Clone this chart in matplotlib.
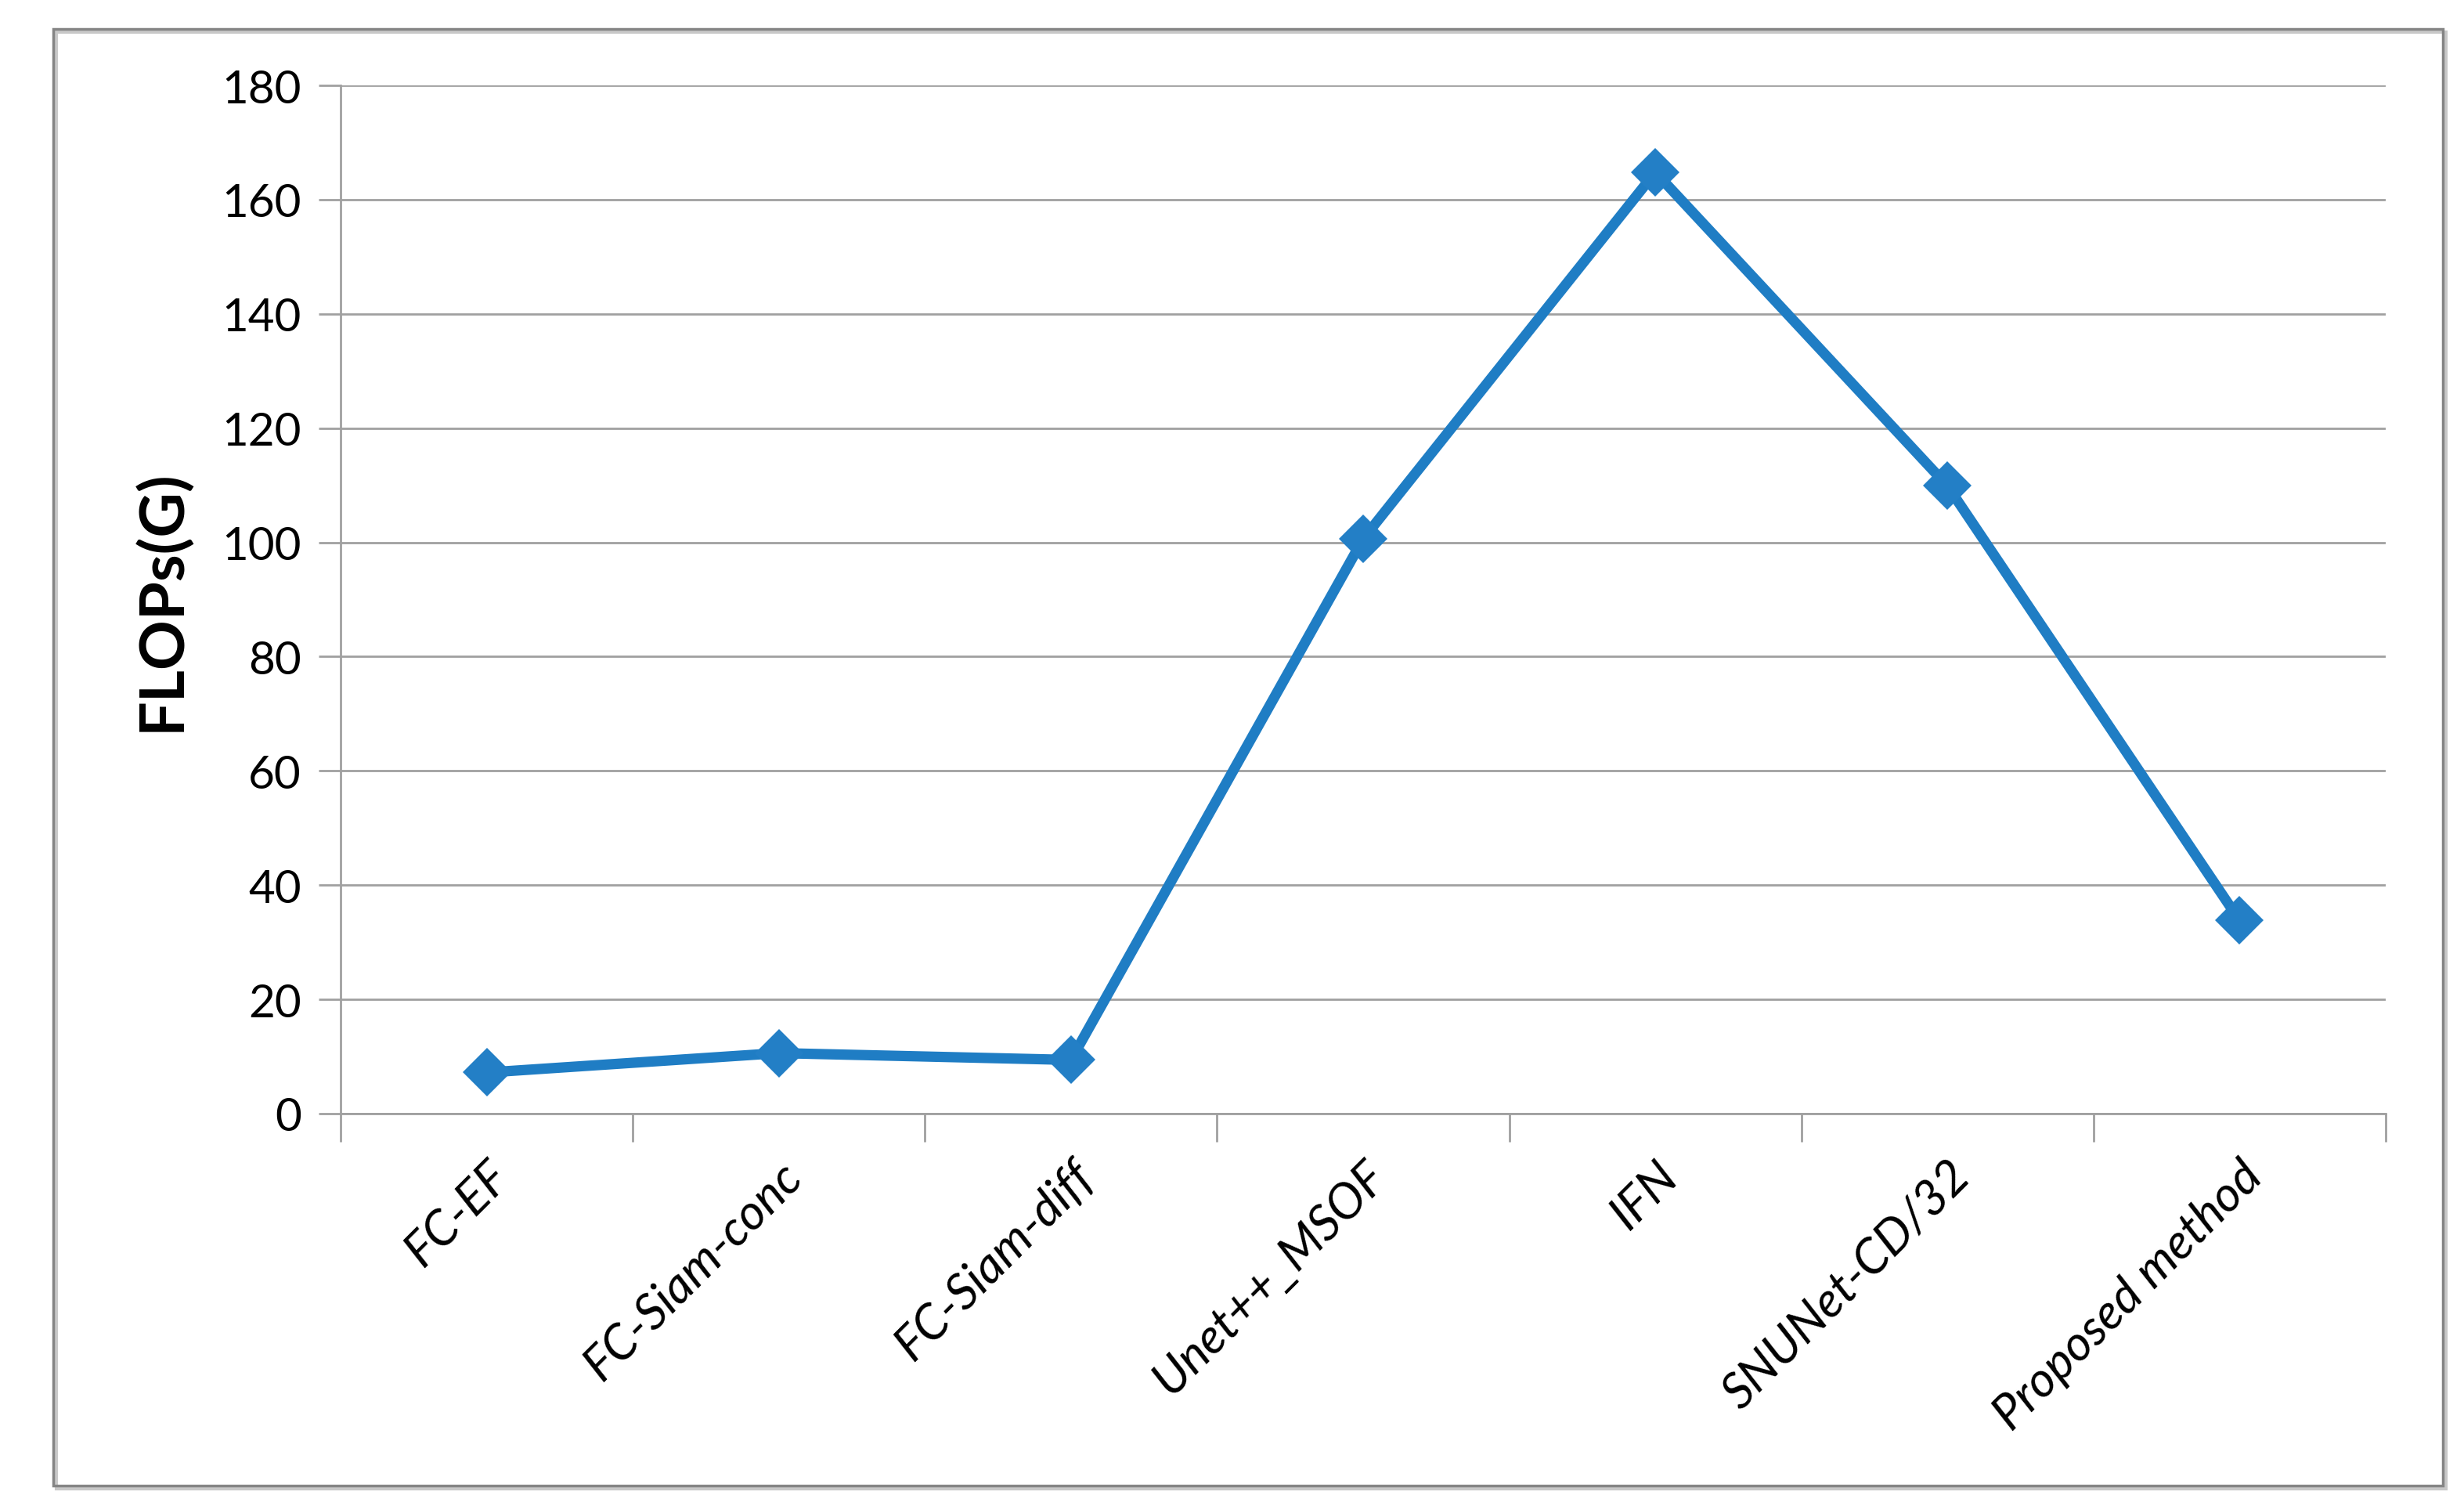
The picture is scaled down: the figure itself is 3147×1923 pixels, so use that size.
import numpy as np
import matplotlib
matplotlib.use("Agg")
import matplotlib.pyplot as plt
from matplotlib.patches import Rectangle

# data
methods = ["FC-EF", "FC-Siam-conc", "FC-Siam-diff", "Unet++_MSOF",
           "IFN", "SNUNet-CD/32", "Proposed method"]
flops = [7.2, 10.6, 9.4, 100.6, 164.8, 109.9, 33.8]
y_ticks = [0, 20, 40, 60, 80, 100, 120, 140, 160, 180]

W, H = 3147, 1924
DPI = 100
plt.rcParams['font.family'] = ['Lato', 'DejaVu Sans']

fig = plt.figure(figsize=(W / DPI, H / DPI), dpi=DPI)

# outer chart border (with a faint shadow on the right/bottom)
fig.patches.append(Rectangle((72 / W, 1 - 1902 / H), (3124 - 72) / W, (1902 - 42) / H,
                             transform=fig.transFigure, fill=False,
                             edgecolor='#c8c8c8', linewidth=3))
fig.patches.append(Rectangle((68 / W, 1 - 1898 / H), (3120 - 68) / W, (1898 - 38) / H,
                             transform=fig.transFigure, fill=False,
                             edgecolor='#858585', linewidth=2.5))

ax = fig.add_axes([435 / W, 1 - 1423 / H, (3047 - 435) / W, (1423 - 110) / H])

grid_c = '#a0a0a0'
x = np.arange(len(methods)) + 0.5
ax.plot(x, flops, color='#1f7dc4', linewidth=9.5, marker='D',
        markersize=32, markerfacecolor='#237fc6', markeredgewidth=0,
        solid_joinstyle='miter', zorder=3)

ax.set_xlim(0, len(methods))
ax.set_ylim(0, 180)
ax.set_yticks(y_ticks)
ax.yaxis.grid(True, color=grid_c, linewidth=2)
ax.set_axisbelow(True)

for s in ['top', 'right']:
    ax.spines[s].set_visible(False)
for s in ['left', 'bottom']:
    ax.spines[s].set_color(grid_c)
    ax.spines[s].set_linewidth(2)

ax.tick_params(axis='y', length=20, width=2, color=grid_c, labelsize=42, pad=16)
ax.set_yticklabels([str(v) for v in y_ticks])

# category boundary ticks on the x axis, labels centred in between
ax.set_xticks(np.arange(len(methods) + 1))
ax.set_xticklabels([])
ax.tick_params(axis='x', which='major', length=26, width=2, color=grid_c)
ax.set_xticks(x, minor=True)
ax.set_xticklabels(methods, minor=True, rotation=45, ha='right', va='top',
                   rotation_mode='anchor', fontsize=45, style='italic')
ax.tick_params(axis='x', which='minor', length=0, pad=36)

ax.set_ylabel('FLOPs(G)', fontsize=57, fontweight='bold', labelpad=28)

fig.savefig('out.png', dpi=DPI, facecolor='white')
